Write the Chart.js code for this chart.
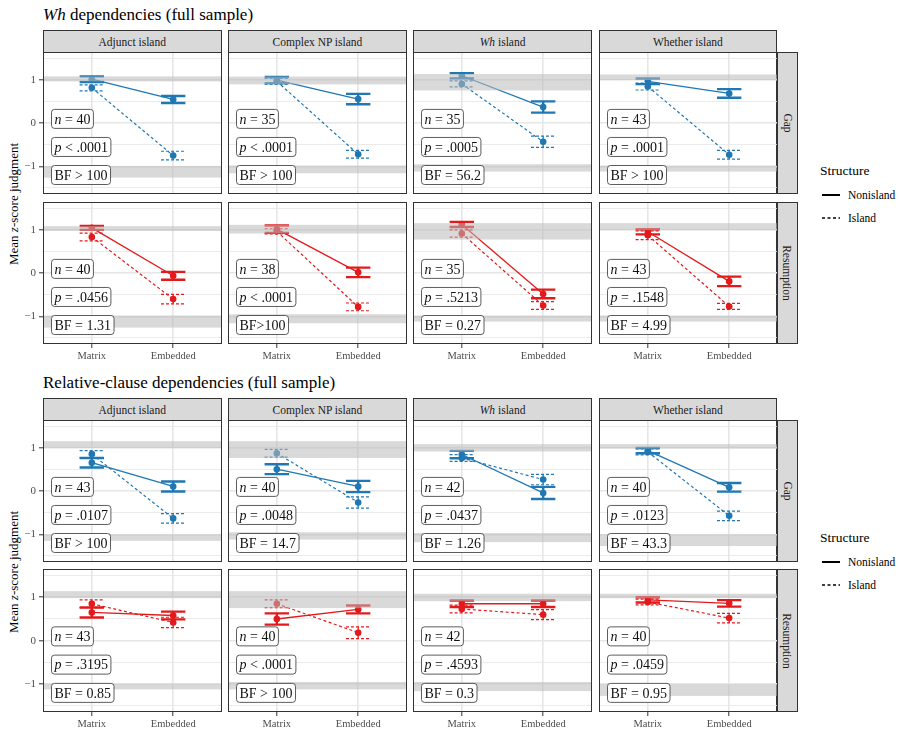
<!DOCTYPE html>
<html>
<head>
<meta charset="utf-8">
<script src="https://cdn.jsdelivr.net/npm/chart.js@4.4.0/dist/chart.umd.min.js"></script>
<style>
  body { margin: 0; background: #fff; width: 899px; height: 730px; position: relative; overflow: hidden; font-family: "Liberation Serif", serif; }
  .abs { position: absolute; }
  .title { font-size: 17px; color: #000; white-space: nowrap; }
  .strip { background: #d9d9d9; border: 1px solid #333; box-sizing: border-box; font-size: 11.5px; color: #1a1a1a;
           display: flex; align-items: center; justify-content: center; white-space: nowrap; }
  .rstrip span { transform: rotate(90deg); display: block; }
  .ytitle { font-size: 13px; white-space: nowrap; transform: translate(-50%, -50%) rotate(-90deg); color: #000; }
  .legtitle { font-size: 13.5px; color: #000; }
  .legitem { font-size: 11.5px; color: #000; display: flex; align-items: center; }
  canvas { position: absolute; }
</style>
</head>
<body>
<script>
// ---------- DATA ----------
const islands = ["Adjunct island", "Complex NP island", "<i>Wh</i> island", "Whether island"];
const rowNames = ["Gap", "Resumption"];
const xCats = ["Matrix", "Embedded"];
const yTicks = [-1.5, -1, -0.5, 0, 0.5, 1, 1.5];

// Wh dependencies: means [Matrix, Embedded] per island
const whGapNon = [[1.02, 0.55], [1.0, 0.56], [1.10, 0.375], [0.97, 0.69]];
const whGapNonErr = [[0.065, 0.08], [0.07, 0.12], [0.06, 0.13], [0.065, 0.1]];
const whGapIsl = [[0.82, -0.75], [0.97, -0.72], [0.91, -0.43], [0.85, -0.73]];
const whGapIslErr = [[0.07, 0.1], [0.07, 0.09], [0.07, 0.13], [0.08, 0.1]];

const whResNon = [[1.05, -0.06], [1.02, 0.02], [1.13, -0.48], [0.96, -0.19]];
const whResNonErr = [[0.045, 0.09], [0.085, 0.11], [0.06, 0.1], [0.06, 0.11]];
const whResIsl = [[0.84, -0.6], [0.97, -0.78], [0.92, -0.75], [0.88, -0.77]];
const whResIslErr = [[0.09, 0.11], [0.06, 0.09], [0.085, 0.09], [0.1, 0.07]];

// Relative-clause dependencies
const rcGapNon = [[0.66, 0.11], [0.51, 0.11], [0.85, -0.04], [0.94, 0.09]];
const rcGapNonErr = [[0.11, 0.115], [0.115, 0.13], [0.085, 0.14], [0.06, 0.1]];
const rcGapIsl = [[0.86, -0.63], [0.88, -0.26], [0.77, 0.27], [0.91, -0.57]];
const rcGapIslErr = [[0.08, 0.11], [0.09, 0.13], [0.08, 0.12], [0.07, 0.11]];

const rcResNon = [[0.65, 0.58], [0.5, 0.72], [0.85, 0.85], [0.94, 0.86]];
const rcResNonErr = [[0.115, 0.09], [0.13, 0.09], [0.075, 0.075], [0.06, 0.075]];
const rcResIsl = [[0.85, 0.42], [0.85, 0.185], [0.73, 0.6], [0.89, 0.52]];
const rcResIslErr = [[0.09, 0.12], [0.09, 0.135], [0.09, 0.115], [0.065, 0.11]];

// reference bands [low, high]
const whGapHi = [[0.97, 1.085], [0.9, 1.08], [0.76, 1.14], [1.0, 1.13]];
const whGapLo = [[-1.26, -0.99], [-1.16, -0.98], [-1.12, -0.95], [-1.12, -0.98]];
const whResHi = [[0.98, 1.09], [0.92, 1.12], [0.78, 1.16], [1.0, 1.16]];
const whResLo = [[-1.26, -0.98], [-1.16, -0.95], [-1.12, -0.98], [-1.12, -0.98]];
const rcGapHi = [[1.0, 1.16], [0.77, 1.16], [0.92, 1.09], [0.99, 1.09]];
const rcGapLo = [[-1.15, -1.0], [-1.12, -0.95], [-1.18, -0.97], [-1.27, -1.0]];
const rcResHi = [[0.98, 1.14], [0.75, 1.14], [0.91, 1.08], [0.98, 1.08]];
const rcResLo = [[-1.12, -0.99], [-1.12, -0.95], [-1.16, -0.95], [-1.27, -1.0]];

// statistics labels
const whGapN = [40, 35, 35, 43];
const whGapP = ["< .0001", "< .0001", "= .0005", "= .0001"];
const whGapBF = ["BF > 100", "BF > 100", "BF = 56.2", "BF > 100"];
const whResN = [40, 38, 35, 43];
const whResP = ["= .0456", "< .0001", "= .5213", "= .1548"];
const whResBF = ["BF = 1.31", "BF>100", "BF = 0.27", "BF = 4.99"];
const rcGapN = [43, 40, 42, 40];
const rcGapP = ["= .0107", "= .0048", "= .0437", "= .0123"];
const rcGapBF = ["BF > 100", "BF = 14.7", "BF = 1.26", "BF = 43.3"];
const rcResN = [43, 40, 42, 40];
const rcResP = ["= .3195", "< .0001", "= .4593", "= .0459"];
const rcResBF = ["BF = 0.85", "BF > 100", "BF = 0.3", "BF = 0.95"];

// ---------- LAYOUT ----------
const BLUE = "#1f78b4";
const RED = "#e31a1c";
const FONT = '"Liberation Serif", serif';
const colX = [43, 228.2, 413.4, 598.6];
const panelW = 178.5;
const labelY = [0.1, -0.55, -1.2]; // label box centres, data units
const capHalf = 0.15;

const blocks = [
  {
    title: "<i>Wh</i> dependencies (full sample)", titleY: 5, stripTop: 30,
    rows: [[52, 194], [202, 344]], ytitleY: 204, legY: 163,
    sets: [
      { non: whGapNon, nonErr: whGapNonErr, isl: whGapIsl, islErr: whGapIslErr, hi: whGapHi, lo: whGapLo, n: whGapN, p: whGapP, bf: whGapBF, color: BLUE },
      { non: whResNon, nonErr: whResNonErr, isl: whResIsl, islErr: whResIslErr, hi: whResHi, lo: whResLo, n: whResN, p: whResP, bf: whResBF, color: RED },
    ],
  },
  {
    title: "Relative-clause dependencies (full sample)", titleY: 373, stripTop: 398,
    rows: [[420, 562], [569, 712]], ytitleY: 572, legY: 530,
    sets: [
      { non: rcGapNon, nonErr: rcGapNonErr, isl: rcGapIsl, islErr: rcGapIslErr, hi: rcGapHi, lo: rcGapLo, n: rcGapN, p: rcGapP, bf: rcGapBF, color: BLUE },
      { non: rcResNon, nonErr: rcResNonErr, isl: rcResIsl, islErr: rcResIslErr, hi: rcResHi, lo: rcResLo, n: rcResN, p: rcResP, bf: rcResBF, color: RED },
    ],
  },
];

function addDiv(cls, html, style) {
  const d = document.createElement("div");
  d.className = "abs " + cls;
  d.innerHTML = html;
  Object.assign(d.style, style);
  document.body.appendChild(d);
  return d;
}

// errorbars + bands + label boxes + border
const panelDeco = {
  id: "panelDeco",
  afterDatasetsDraw(chart, args, o) {
    const { ctx, chartArea: a, scales: { x, y } } = chart;
    const p = o.panel;
    ctx.save();
    ctx.beginPath();
    ctx.rect(a.left, a.top, a.right - a.left, a.bottom - a.top);
    ctx.clip();
    [[p.non, p.nonErr, false], [p.isl, p.islErr, true]].forEach(([m, e, dashed]) => {
      ctx.strokeStyle = p.color;
      ctx.lineWidth = dashed ? 1.2 : 2.4;
      m.forEach((v, i) => {
        const xv = i + 1;
        const x0 = x.getPixelForValue(xv - capHalf), x1 = x.getPixelForValue(xv + capHalf), xc = x.getPixelForValue(xv);
        const yt = y.getPixelForValue(v + e[i]), yb = y.getPixelForValue(v - e[i]);
        ctx.setLineDash(dashed ? [3, 2] : []);
        ctx.beginPath();
        ctx.moveTo(x0, yt); ctx.lineTo(x1, yt);
        ctx.moveTo(x0, yb); ctx.lineTo(x1, yb);
        ctx.stroke();
        ctx.setLineDash([]);
        ctx.beginPath();
        ctx.moveTo(xc, yt); ctx.lineTo(xc, yb);
        ctx.stroke();
      });
    });
    ctx.setLineDash([]);
    ctx.fillStyle = "rgba(185,185,185,0.55)";
    [p.hi, p.lo].forEach(([lo, hi]) => {
      const t = y.getPixelForValue(hi), b = y.getPixelForValue(lo);
      ctx.fillRect(a.left, t, a.right - a.left, b - t);
    });
    ctx.restore();
  },
  afterDraw(chart, args, o) {
    const { ctx, chartArea: a, scales: { y } } = chart;
    const p = o.panel;
    const lines = [
      [["n", true], [" = " + p.n, false]],
      [["p", true], [" " + p.p, false]],
      [[p.bf, false]],
    ];
    ctx.save();
    ctx.textBaseline = "middle";
    lines.forEach((parts, k) => {
      let w = 0;
      parts.forEach(([t, it]) => { ctx.font = (it ? "italic " : "") + "14px " + FONT; w += ctx.measureText(t).width; });
      const cy = y.getPixelForValue(labelY[k]);
      const bx = a.left + 8.5, bw = w + 6, bh = 19, by = cy - bh / 2;
      ctx.beginPath();
      ctx.roundRect(bx, by, bw, bh, 3);
      ctx.fillStyle = "#fff";
      ctx.fill();
      ctx.strokeStyle = "#333";
      ctx.lineWidth = 0.8;
      ctx.stroke();
      let tx = bx + 3;
      ctx.fillStyle = "#111";
      parts.forEach(([t, it]) => {
        ctx.font = (it ? "italic " : "") + "14px " + FONT;
        ctx.fillText(t, tx, cy + 1);
        tx += ctx.measureText(t).width;
      });
    });
    ctx.strokeStyle = "#333";
    ctx.lineWidth = 1;
    ctx.strokeRect(a.left + 0.5, a.top + 0.5, a.right - a.left - 1, a.bottom - a.top - 1);
    ctx.restore();
  },
};

function noPad(s) {
  s.paddingTop = 0; s.paddingBottom = 0; s.paddingLeft = 0; s.paddingRight = 0;
}

blocks.forEach((b) => {
  addDiv("title", b.title, { left: "43px", top: b.titleY + "px" });
  addDiv("ytitle", "Mean <i>z</i>-score judgment", { left: "14px", top: b.ytitleY + "px" });

  // legend
  addDiv("legtitle", "Structure", { left: "820px", top: b.legY + "px" });
  [["Nonisland", ""], ["Island", "3,2.5"]].forEach(([lab, dash], k) => {
    addDiv("legitem",
      `<svg width="20" height="4" style="margin-right:7px"><line x1="1" y1="2" x2="19" y2="2" stroke="#000" stroke-width="${dash ? 1.3 : 2}" ${dash ? `stroke-dasharray="${dash}"` : ""}/></svg><span>${lab}</span>`,
      { left: "821px", top: (b.legY + 26 + k * 22.5) + "px" });
  });

  islands.forEach((isl, c) => {
    addDiv("strip", "<span>" + isl + "</span>", { left: colX[c] + "px", top: b.stripTop + "px", width: panelW + "px", height: (b.rows[0][0] - b.stripTop + 1) + "px" });
  });

  b.rows.forEach(([top, bottom], r) => {
    addDiv("strip rstrip", "<span>" + rowNames[r] + "</span>",
      { left: (colX[3] + panelW - 1) + "px", top: top + "px", width: "22px", height: (bottom - top) + "px" });

    const set = b.sets[r];
    islands.forEach((isl, c) => {
      const yAxisW = c === 0 ? colX[0] : 0;
      const xAxisH = r === 1 ? 20 : 0;
      const w = Math.round(yAxisW + panelW), h = Math.round(bottom - top + xAxisH);
      const cv = document.createElement("canvas");
      cv.width = w; cv.height = h;
      cv.style.left = (c === 0 ? 0 : colX[c]) + "px";
      cv.style.top = top + "px";
      cv.style.width = w + "px"; cv.style.height = h + "px";
      document.body.appendChild(cv);

      const panel = {
        non: set.non[c], nonErr: set.nonErr[c], isl: set.isl[c], islErr: set.islErr[c],
        hi: set.hi[c], lo: set.lo[c], n: set.n[c], p: set.p[c], bf: set.bf[c], color: set.color,
      };
      const gridW = (ctx) => (ctx.tick && Number.isInteger(ctx.tick.value) ? 1.6 : 0.8);

      new Chart(cv.getContext("2d"), {
        type: "line",
        data: {
          datasets: [
            { label: "Nonisland", data: panel.non.map((v, i) => ({ x: i + 1, y: v })),
              borderColor: set.color, backgroundColor: set.color, borderWidth: 1.3,
              pointRadius: 3.3, pointBorderWidth: 0, pointBackgroundColor: set.color },
            { label: "Island", data: panel.isl.map((v, i) => ({ x: i + 1, y: v })),
              borderColor: set.color, backgroundColor: set.color, borderWidth: 1.2, borderDash: [3, 2.5],
              pointRadius: 3.3, pointBorderWidth: 0, pointBackgroundColor: set.color },
          ],
        },
        options: {
          responsive: false,
          animation: false,
          devicePixelRatio: 1,
          layout: { padding: 0, autoPadding: false },
          plugins: { legend: { display: false }, tooltip: { enabled: false }, panelDeco: { panel } },
          scales: {
            x: {
              type: "linear", min: 0.4, max: 2.6,
              afterBuildTicks: (s) => { s.ticks = xCats.map((_, i) => ({ value: i + 1 })); },
              afterFit: (s) => { s.height = xAxisH; noPad(s); },
              border: { display: false },
              grid: { color: "#e6e6e6", lineWidth: 1.6, drawTicks: r === 1, tickLength: 4, tickColor: "#333", tickWidth: 1 },
              ticks: { display: r === 1, padding: 2, color: "#4d4d4d", font: { family: FONT, size: 10.5 },
                       maxRotation: 0, autoSkip: false, callback: (v, i) => xCats[i] },
            },
            y: {
              type: "linear", min: -1.64, max: 1.65,
              afterBuildTicks: (s) => { s.ticks = yTicks.map((v) => ({ value: v })); },
              afterFit: (s) => { s.width = yAxisW; noPad(s); },
              border: { display: false },
              grid: { color: "#e6e6e6", lineWidth: gridW, drawTicks: c === 0, tickLength: 4, tickWidth: 1,
                      tickColor: (ctx) => (ctx.tick && Number.isInteger(ctx.tick.value) ? "#333" : "rgba(0,0,0,0)") },
              ticks: { display: c === 0, padding: 3, color: "#4d4d4d", font: { family: FONT, size: 11 }, autoSkip: false,
                       callback: (v) => (Number.isInteger(v) ? (v < 0 ? "\u2212" + Math.abs(v) : String(v)) : "") },
            },
          },
        },
        plugins: [panelDeco],
      });
    });
  });
});
</script>
</body>
</html>
